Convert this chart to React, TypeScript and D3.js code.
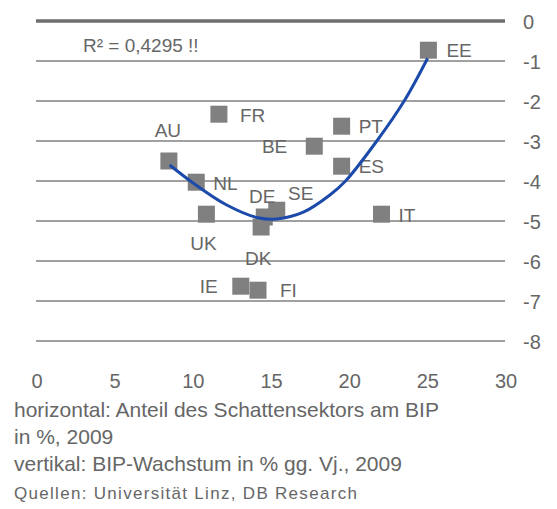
import React, { useEffect, useRef } from "react";
import * as d3 from "d3";

// Schattensektor (x, % BIP) vs. BIP-Wachstum (y, % gg. Vj.), 2009
const countries = ["AU", "FR", "NL", "UK", "BE", "PT", "ES", "SE", "DE", "DK", "IT", "IE", "FI", "EE"];
const shadowShare = [8.5, 11.7, 10.25, 10.9, 17.8, 19.55, 19.55, 15.4, 14.6, 14.4, 22.1, 13.1, 14.2, 25.1];
const gdpGrowth = [-3.5, -2.33, -4.03, -4.83, -3.13, -2.63, -3.63, -4.73, -4.9, -5.15, -4.83, -6.63, -6.73, -0.73];

// polynomial trend line, sampled from the chart
const trendX = [8.55, 10.05, 12.2, 14.2, 15.4, 17.1, 18.8, 19.8, 21.8, 23.55, 25.05];
const trendY = [-3.6, -4.05, -4.6, -4.92, -4.95, -4.78, -4.35, -4.0, -3.0, -2.0, -0.93];

const xTicks = [0, 5, 10, 15, 20, 25, 30];
const yTicks = [0, -1, -2, -3, -4, -5, -6, -7, -8];

const r2Label = "R² = 0,4295 !!";
const notes = [
  "horizontal: Anteil des Schattensektors am BIP",
  "in %, 2009",
  "vertikal: BIP-Wachstum in % gg. Vj., 2009",
];
const source = "Quellen: Universität Linz, DB Research";

// label placement relative to the marker
const labelPos: Record<string, [number, number, string]> = {
  AU: [-1, -24, "middle"],
  FR: [21, 8, "start"],
  NL: [17, 8, "start"],
  UK: [-3, 36, "middle"],
  BE: [-27, 7, "end"],
  PT: [17, 7, "start"],
  ES: [17, 7, "start"],
  SE: [24, -10, "middle"],
  DE: [-2, -14, "middle"],
  DK: [-3, 38, "middle"],
  IT: [17, 8, "start"],
  IE: [-23, 7, "end"],
  FI: [22, 7, "start"],
  EE: [18, 7, "start"],
};

const width = 557;
const height = 509;
const font = "'Liberation Sans', Arial, sans-serif";
const textColor = "#666";
const gray = "#808080";

export default function App() {
  const ref = useRef<SVGSVGElement>(null);

  useEffect(() => {
    const svg = d3.select(ref.current);
    svg.selectAll("*").remove();

    const x = d3.scaleLinear().domain([0, 30]).range([36, 505]);
    const y = d3.scaleLinear().domain([0, -8]).range([21, 341]);

    // grid lines
    svg
      .append("g")
      .selectAll("line")
      .data(yTicks)
      .enter()
      .append("line")
      .attr("x1", x(0))
      .attr("x2", x(30))
      .attr("y1", (d) => y(d))
      .attr("y2", (d) => y(d))
      .attr("stroke", (d) => (d === 0 ? "#6e6e6e" : gray))
      .attr("stroke-width", (d) => (d === 0 ? 3.5 : 1.5));

    // y labels on the right
    svg
      .append("g")
      .selectAll("text")
      .data(yTicks)
      .enter()
      .append("text")
      .attr("x", 523)
      .attr("y", (d) => y(d) + 8)
      .attr("font-family", font)
      .attr("font-size", 20)
      .attr("fill", textColor)
      .text((d) => String(d));

    // x labels
    svg
      .append("g")
      .selectAll("text")
      .data(xTicks)
      .enter()
      .append("text")
      .attr("x", (d) => x(d) + 1)
      .attr("y", 388)
      .attr("text-anchor", "middle")
      .attr("font-family", font)
      .attr("font-size", 20)
      .attr("fill", textColor)
      .text((d) => String(d));

    const pts = countries.map((c, i) => ({ c, x: shadowShare[i], y: gdpGrowth[i] }));

    svg
      .append("g")
      .selectAll("rect")
      .data(pts)
      .enter()
      .append("rect")
      .attr("x", (d) => x(d.x) - 8.5)
      .attr("y", (d) => y(d.y) - 8.5)
      .attr("width", 17)
      .attr("height", 17)
      .attr("fill", gray);

    svg
      .append("g")
      .selectAll("text")
      .data(pts)
      .enter()
      .append("text")
      .attr("x", (d) => x(d.x) + labelPos[d.c][0])
      .attr("y", (d) => y(d.y) + labelPos[d.c][1])
      .attr("text-anchor", (d) => labelPos[d.c][2])
      .attr("font-family", font)
      .attr("font-size", 19)
      .attr("fill", textColor)
      .text((d) => d.c);

    // trend line
    const line = d3
      .line<number>()
      .x((d, i) => x(trendX[i]))
      .y((d) => y(d))
      .curve(d3.curveCatmullRom);

    svg
      .append("path")
      .datum(trendY)
      .attr("d", line)
      .attr("fill", "none")
      .attr("stroke", "#1c4aab")
      .attr("stroke-width", 3);

    svg
      .append("text")
      .attr("x", 83)
      .attr("y", 52)
      .attr("font-family", font)
      .attr("font-size", 19)
      .attr("fill", textColor)
      .text(r2Label);

    svg
      .append("g")
      .selectAll("text")
      .data(notes)
      .enter()
      .append("text")
      .attr("x", 14)
      .attr("y", (d, i) => 417 + i * 27)
      .attr("font-family", font)
      .attr("font-size", 21)
      .attr("fill", textColor)
      .text((d) => d);

    svg
      .append("text")
      .attr("x", 14)
      .attr("y", 499)
      .attr("font-family", font)
      .attr("font-size", 17)
      .attr("letter-spacing", 1.3)
      .attr("fill", textColor)
      .text(source);
  }, []);

  return (
    <svg
      ref={ref}
      width={width}
      height={height}
      style={{ position: "absolute", left: 0, top: 0, background: "#fff" }}
    />
  );
}
